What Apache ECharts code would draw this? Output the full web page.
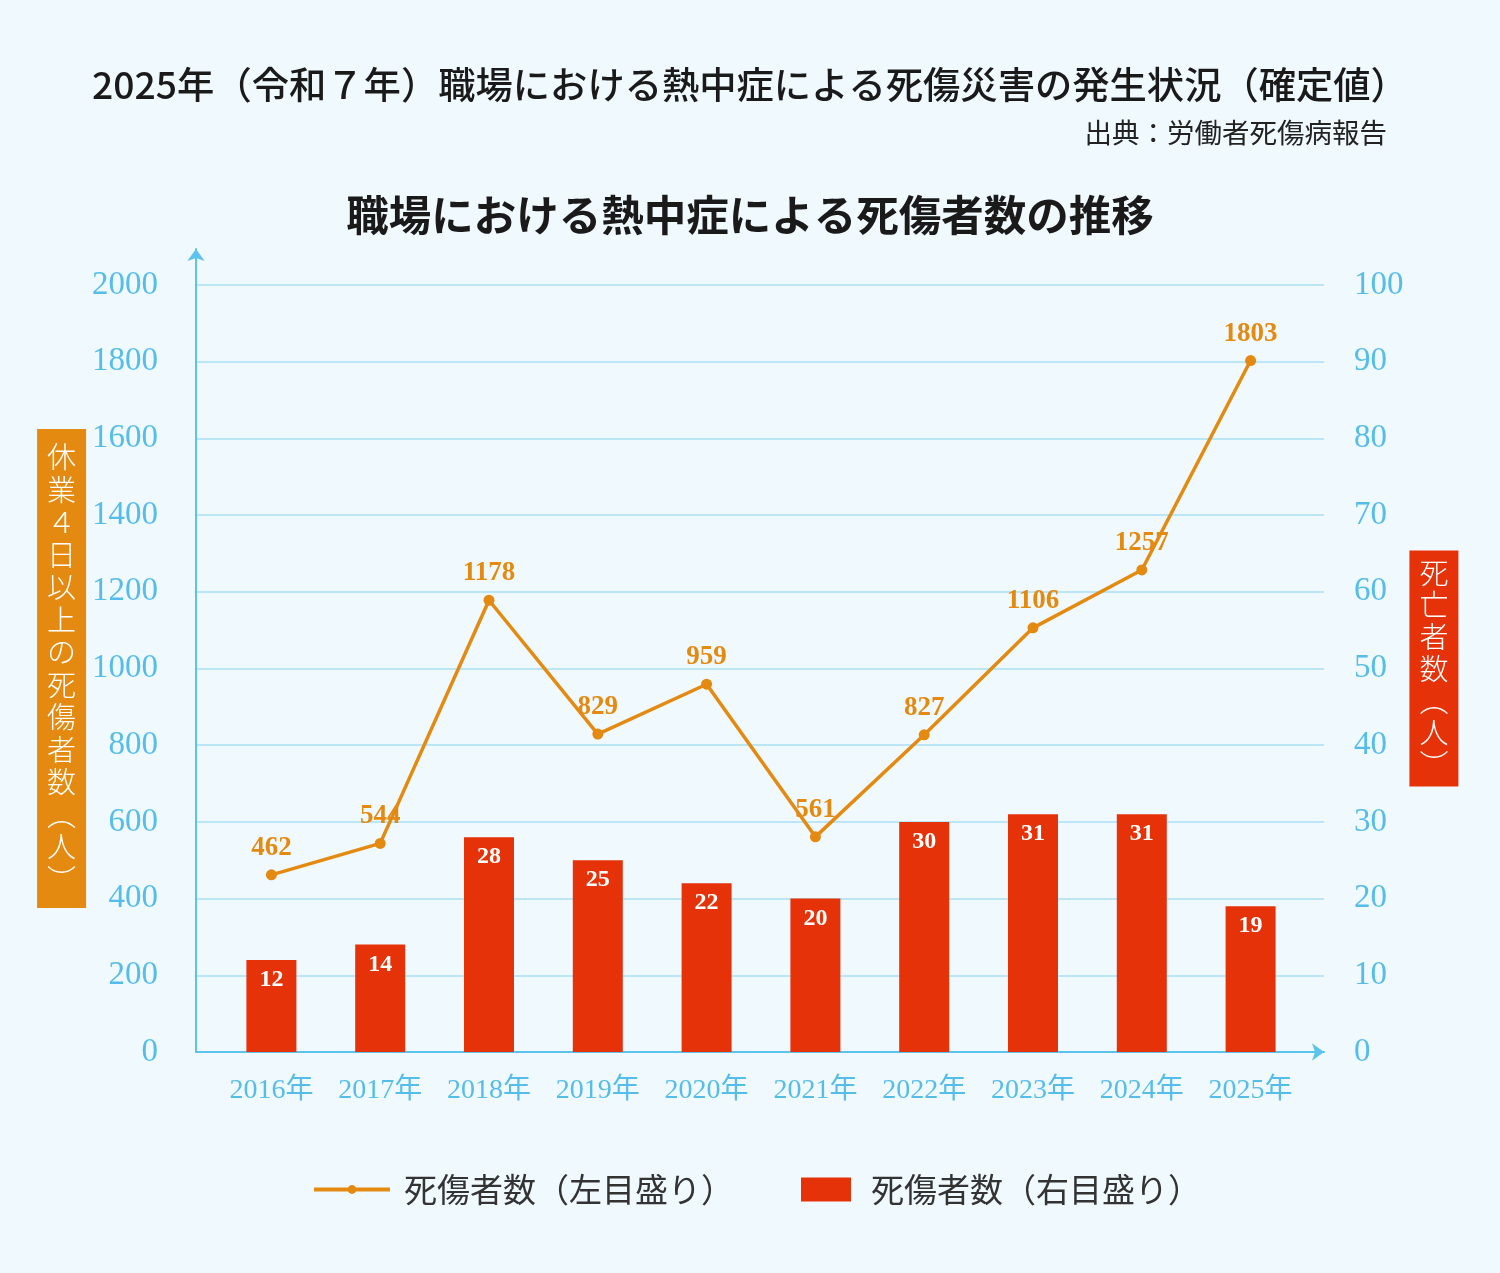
<!DOCTYPE html>
<html lang="ja">
<head>
<meta charset="utf-8">
<title>職場における熱中症による死傷者数の推移</title>
<script src="https://cdn.jsdelivr.net/npm/echarts@6/dist/echarts.min.js"></script>
<style>
  html, body { margin: 0; padding: 0; background: #f0f9fd; }
  #chart { width: 1500px; height: 1273px; }
</style>
</head>
<body>
<div id="chart"></div>
<script>
// データ（死傷者数・死亡者数）
const years = ['2016年', '2017年', '2018年', '2019年', '2020年', '2021年', '2022年', '2023年', '2024年', '2025年'];
const injuries = [462, 544, 1178, 829, 959, 561, 827, 1106, 1257, 1803];
const deaths = [12, 14, 28, 25, 22, 20, 30, 31, 31, 19];
const leftTicks = { min: 0, max: 2000, interval: 200 };
const rightTicks = { min: 0, max: 100, interval: 10 };

const lineName = '死傷者数（左目盛り）';
const barName = '死傷者数（右目盛り）';
const leftAxisName = '休業４日以上の死傷者数︵人︶';
const rightAxisName = '死亡者数︵人︶';

const axisBlue = '#5cc3ee';
const labelBlue = '#55bdea';
const gridBlue = '#a9dff5';
const orange = '#e48a10';
const red = '#e53208';
const cjk = '"Noto Sans CJK JP", sans-serif';
const serif = '"Liberation Serif", "Noto Sans CJK JP", serif';

// 縦書き用に1文字ずつ改行
const vertical = s => s.split('').join('\n');
const plain = v => String(v);

const chart = echarts.init(document.getElementById('chart'));

const option = {
  backgroundColor: '#f0f9fd',
  animation: false,
  title: [
    {
      text: '2025年（令和７年）職場における熱中症による死傷災害の発生状況（確定値）',
      left: 'center',
      top: 61,
      textStyle: { fontFamily: cjk, fontSize: 37.3, fontWeight: 500, color: '#1a1a1a' }
    },
    {
      text: '出典：労働者死傷病報告',
      right: 108,
      top: 114,
      textStyle: { fontFamily: cjk, fontSize: 27.5, fontWeight: 'normal', color: '#222' }
    },
    {
      text: '職場における熱中症による死傷者数の推移',
      left: 'center',
      top: 189,
      textStyle: { fontFamily: cjk, fontSize: 42.5, fontWeight: 'bold', color: '#1a1a1a' }
    }
  ],
  legend: [
    {
      data: [lineName],
      left: 307,
      top: 1168,
      itemWidth: 76,
      itemHeight: 11,
      lineStyle: { width: 4 },
      textStyle: { fontFamily: cjk, fontSize: 33, color: '#333', padding: [0, 0, 0, 9] }
    },
    {
      data: [{ name: barName, icon: 'rect' }],
      left: 796,
      top: 1168,
      itemWidth: 50,
      itemHeight: 24,
      textStyle: { fontFamily: cjk, fontSize: 33, color: '#333', padding: [0, 0, 0, 15] }
    }
  ],
  grid: [
    // 目盛り・補助線
    { left: 196, right: 176, top: 285, bottom: 221 },
    // 縦軸の矢印
    { left: 196, right: 176, top: 249, bottom: 221 },
    // 棒グラフ・折れ線
    { left: 217, right: 195, top: 285, bottom: 221 }
  ],
  xAxis: [
    {
      gridIndex: 0, type: 'value', min: 0, max: 1,
      axisLine: { show: true, lineStyle: { color: axisBlue, width: 2 }, symbol: ['none', 'arrow'], symbolSize: [13, 12] },
      axisTick: { show: false }, axisLabel: { show: false }, splitLine: { show: false }
    },
    { gridIndex: 1, type: 'value', min: 0, max: 1, show: false },
    {
      gridIndex: 2, type: 'category', data: years,
      axisLine: { show: false }, axisTick: { show: false },
      axisLabel: { interval: 0, color: labelBlue, fontFamily: serif, fontSize: 28, margin: 25 }
    }
  ],
  yAxis: [
    {
      gridIndex: 0, type: 'value', position: 'left', ...leftTicks,
      name: vertical(leftAxisName),
      nameLocation: 'middle', nameRotate: 0, nameGap: 100,
      nameTextStyle: {
        color: '#fff', fontFamily: cjk, fontSize: 29, fontWeight: 300, lineHeight: 32.5,
        backgroundColor: orange, padding: [12, 10, 12, 10]
      },
      axisLine: { show: false }, axisTick: { show: false },
      axisLabel: { formatter: plain, color: labelBlue, fontFamily: serif, fontSize: 33, margin: 38 },
      splitLine: { lineStyle: { color: gridBlue, width: 1.5 } }
    },
    {
      gridIndex: 0, type: 'value', position: 'right', ...rightTicks,
      name: vertical(rightAxisName),
      nameLocation: 'middle', nameRotate: 0, nameGap: 85,
      nameTextStyle: {
        color: '#fff', fontFamily: cjk, fontSize: 29, fontWeight: 300, lineHeight: 32,
        backgroundColor: red, padding: [6, 10, 6, 10]
      },
      axisLine: { show: false }, axisTick: { show: false },
      axisLabel: { formatter: plain, color: labelBlue, fontFamily: serif, fontSize: 33, margin: 30 },
      splitLine: { show: false }
    },
    {
      gridIndex: 1, type: 'value', min: 0, max: 1,
      axisLine: { show: true, lineStyle: { color: axisBlue, width: 2 }, symbol: ['none', 'arrow'], symbolSize: [13, 12] },
      axisTick: { show: false }, axisLabel: { show: false }, splitLine: { show: false }
    },
    { gridIndex: 2, type: 'value', ...leftTicks, show: false },
    { gridIndex: 2, type: 'value', ...rightTicks, show: false }
  ],
  series: [
    {
      name: barName,
      type: 'bar',
      xAxisIndex: 2,
      yAxisIndex: 4,
      data: deaths,
      barWidth: 50,
      itemStyle: { color: red },
      label: {
        show: true, position: 'insideTop', distance: 8,
        color: '#fff', fontFamily: serif, fontWeight: 'bold', fontSize: 24
      },
      z: 2
    },
    {
      name: lineName,
      type: 'line',
      xAxisIndex: 2,
      yAxisIndex: 3,
      data: injuries,
      symbol: 'circle',
      symbolSize: 11,
      lineStyle: { color: orange, width: 3.5 },
      itemStyle: { color: orange },
      label: {
        show: true, position: 'top', distance: 8,
        color: orange, fontFamily: serif, fontWeight: 'bold', fontSize: 27
      },
      z: 3
    }
  ]
};

chart.setOption(option);
window.addEventListener('resize', () => chart.resize());
</script>
</body>
</html>
